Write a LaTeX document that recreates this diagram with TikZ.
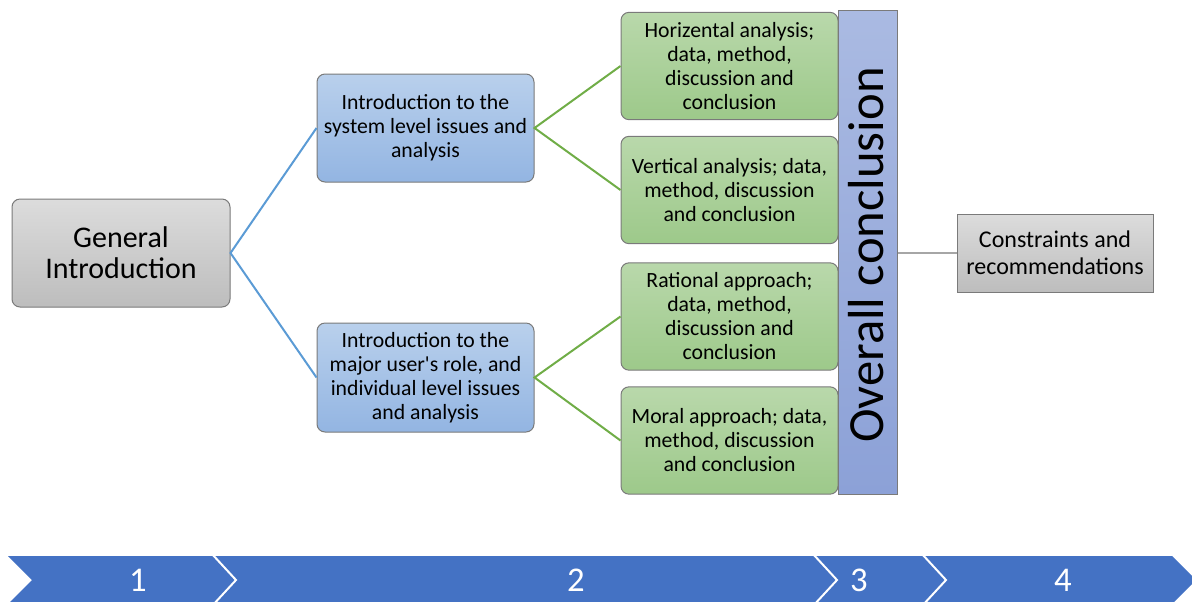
\documentclass[tikz,border=0pt]{standalone}
\usepackage{fontspec}
\setmainfont{Carlito}[Ligatures=TeXOff]
\definecolor{boxline}{HTML}{7A7A7A}
\definecolor{gtop}{HTML}{DCDCDC}
\definecolor{gbot}{HTML}{BDBDBD}
\definecolor{btop}{HTML}{B9D0EC}
\definecolor{bbot}{HTML}{93B5E2}
\definecolor{grtop}{HTML}{B9D8AB}
\definecolor{grbot}{HTML}{9DC98A}
\definecolor{bartop}{HTML}{AABAE2}
\definecolor{barbot}{HTML}{8CA1D7}
\definecolor{bline}{HTML}{5B9BD5}
\definecolor{grline}{HTML}{70AD47}
\definecolor{gline}{HTML}{A6A6A6}
\definecolor{chev}{HTML}{4472C4}
\begin{document}
\begin{tikzpicture}[x=0.75pt,y=-0.75pt,
  box/.style={draw=boxline, line width=0.75pt, rounded corners=6pt, inner sep=0pt, align=center, font=\fontsize{16.3}{18}\selectfont},
  graybox/.style={box, top color=gtop, bottom color=gbot},
  bluebox/.style={box, top color=btop, bottom color=bbot, minimum width=162.75pt, minimum height=81pt},
  greenbox/.style={box, top color=grtop, bottom color=grbot, minimum width=162.75pt, minimum height=80.5pt},
  blueline/.style={draw=bline, line width=1.5pt},
  greenline/.style={draw=grline, line width=1.5pt},
  grayline/.style={draw=gline, line width=1.5pt},
  digit/.style={text=white, font=\fontsize{26}{30}\selectfont, inner sep=0pt},
  sep/.style={draw=white, line width=1.5pt},
]
\useasboundingbox (0,0) rectangle (1192,601);

% boxes
\node[graybox, minimum width=163.5pt, minimum height=81pt, font=\fontsize{22.5}{23.5}\selectfont] (gi) at (121,253) {General\\Introduction};
\node[bluebox] (b1) at (425.5,128) {Introduction to the\\system level issues and\\analysis};
\node[bluebox, minimum height=81.75pt] (b2) at (425.5,377.5) {Introduction to the\\major user's role, and\\individual level issues\\and analysis};
\node[greenbox] (g1) at (729.5,66) {Horizental analysis;\\data, method,\\discussion and\\conclusion};
\node[greenbox] (g2) at (729.5,190) {Vertical analysis; data,\\method, discussion\\and conclusion};
\node[greenbox] (g3) at (729.5,316.5) {Rational approach;\\data, method,\\discussion and\\conclusion};
\node[greenbox] (g4) at (729.5,440.5) {Moral approach; data,\\method, discussion\\and conclusion};
\node[draw=boxline, line width=0.75pt, top color=bartop, bottom color=barbot, minimum width=44.25pt, minimum height=363pt, inner sep=0pt] (bar) at (867.5,252) {};
\node[rotate=90, font=\fontsize{38}{40}\selectfont, inner sep=0pt] (oc) at (866,255) {Overall conclusion};
\node[draw=boxline, line width=0.75pt, top color=gtop, bottom color=gbot, minimum width=147pt, minimum height=58.5pt, inner sep=0pt, align=center, font=\fontsize{18}{20}\selectfont] (cr) at (1055,253) {Constraints and\\recommendations};

% connectors
\draw[blueline] (b1.west) -- (gi.east) -- (b2.west);
\draw[greenline] (g1.west) -- (b1.east) -- (g2.west);
\draw[greenline] (g3.west) -- (b2.east) -- (g4.west);
\draw[grayline] (cr.west) -- (cr.west -| bar.east);

% bottom chevron bar
\fill[chev] (8,556) -- (1172,556) -- (1196,580) -- (1172,604) -- (8,604) -- (32,580) -- cycle;
\draw[sep] (212,554) -- (236,580) -- (212,606);
\draw[sep] (813,554) -- (837,580) -- (813,606);
\draw[sep] (922,554) -- (946,580) -- (922,606);
\node[digit] (d1) at (138,580) {1};
\node[digit] (d2) at (576,580) {2};
\node[digit] (d3) at (859,580) {3};
\node[digit] (d4) at (1063,580) {4};
\end{tikzpicture}
\end{document}
